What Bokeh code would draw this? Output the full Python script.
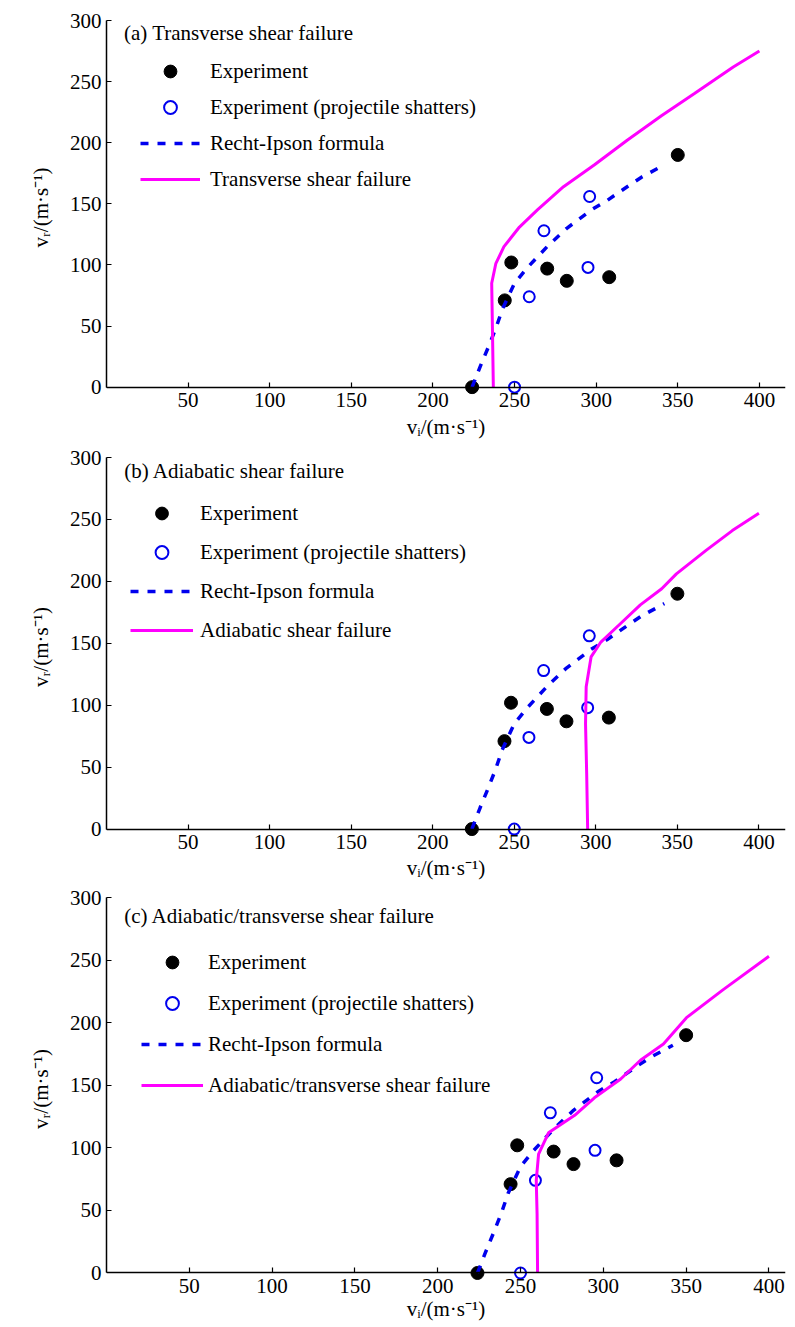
from bokeh.plotting import figure
from bokeh.layouts import column
from bokeh.models import Range1d, Legend, LegendItem, Label, FixedTicker, LinearAxis
from bokeh.embed import file_html
from bokeh.resources import INLINE

# ---- data ----
exp_vi = [224, 244, 248, 270, 282, 308, 350]
exp_vr = [0, 71, 102, 97, 87, 90, 190]
shat_vi = [250, 259, 268, 295, 296]
shat_vr = [0, 74, 128, 98, 156]
ri_vi = [224, 229, 234, 238.5, 242.6, 250, 258, 270, 282, 294, 297, 307, 319, 328, 342]
ri_vr = [0, 17, 33, 48, 64, 85, 98, 115, 130, 142, 145, 153, 164, 172, 182]
ts_vi = [237, 236.5, 236, 238.5, 243.5, 253, 264, 280, 299, 319, 340, 360, 384, 400]
ts_vr = [0, 44, 85, 101, 115, 131, 145, 164, 182, 202, 222, 240, 262, 275]
as_vi = [295, 294.4, 293.7, 294.1, 297.1, 303.1, 315.2, 327.3, 340.4, 349.4, 367.6, 383.7, 400]
as_vr = [0, 45, 85, 115, 139, 151, 166, 181, 194, 206, 225, 241, 255]
at_vi = [260.3, 260, 259.5, 260.9, 266.9, 282.7, 294.6, 310.5, 322.4, 336.3, 350.2, 372, 400]
at_vr = [0, 47, 74, 95, 112, 126, 140, 155, 170, 183, 204, 226, 253]

x_ticks = [50, 100, 150, 200, 250, 300, 350, 400]
y_ticks = [0, 50, 100, 150, 200, 250, 300]

FONT = "Liberation Serif"
FS = "21px"
MAGENTA = "#ff00ff"
BLUE = "#0000ee"
Y_LO = -6


def style_axis(ax):
    ax.axis_line_width = 1.5
    ax.axis_line_color = "black"
    ax.major_tick_in = 5
    ax.major_tick_out = 0
    ax.minor_tick_in = 0
    ax.minor_tick_out = 0
    ax.major_tick_line_width = 1.2
    ax.major_tick_line_color = "black"
    ax.major_label_text_font = FONT
    ax.major_label_text_font_size = FS
    ax.major_label_text_color = "black"
    ax.axis_label_text_font = FONT
    ax.axis_label_text_font_size = FS
    ax.axis_label_text_font_style = "normal"
    ax.axis_label_text_color = "black"
    ax.major_label_standoff = 5


def make_panel(title, curve_label, cx, cy, height, xmax, top, bottom, right,
               leg_x, leg_y, glyph_w, standoff, spacing, title_xy, xlab_standoff):
    p = figure(width=795, height=height, output_backend="svg", toolbar_location=None,
               x_range=Range1d(0, xmax), y_range=Range1d(Y_LO, 300),
               min_border_left=106, min_border_right=right,
               min_border_top=top, min_border_bottom=bottom)
    p.outline_line_color = None
    p.grid.visible = False
    p.background_fill_color = "white"

    # outer x axis: only labels
    xa = p.xaxis[0]
    style_axis(xa)
    xa.ticker = FixedTicker(ticks=x_ticks)
    xa.axis_line_color = None
    xa.major_tick_line_color = None
    xa.major_label_standoff = -2
    xa.axis_label = "vᵢ/(m·s⁻¹)"
    xa.axis_label_standoff = xlab_standoff

    # axis line and ticks at vr = 0
    xa0 = LinearAxis(fixed_location=0, ticker=FixedTicker(ticks=x_ticks))
    style_axis(xa0)
    xa0.major_label_text_color = None
    p.add_layout(xa0, "below")

    ya = p.yaxis[0]
    style_axis(ya)
    ya.ticker = FixedTicker(ticks=y_ticks)
    ya.bounds = (0, 300)
    ya.axis_label = "vᵣ/(m·s⁻¹)"
    ya.axis_label_standoff = 14

    r_exp = p.scatter(exp_vi, exp_vr, size=13, marker="circle", fill_color="black",
                      line_color="black")
    r_sh = p.scatter(shat_vi, shat_vr, size=11, marker="circle", fill_color=None,
                     line_color=BLUE, line_width=2)
    r_ri = p.line(ri_vi, ri_vr, line_color=BLUE, line_width=3.5, line_dash="8 9")
    r_cv = p.line(cx, cy, line_color=MAGENTA, line_width=3)

    legend = Legend(items=[
        LegendItem(label="Experiment", renderers=[r_exp]),
        LegendItem(label="Experiment (projectile shatters)", renderers=[r_sh]),
        LegendItem(label="Recht-Ipson formula", renderers=[r_ri]),
        LegendItem(label=curve_label, renderers=[r_cv]),
    ], location=(leg_x, leg_y), orientation="vertical")
    legend.border_line_color = None
    legend.background_fill_alpha = 0
    legend.padding = 0
    legend.margin = 0
    legend.glyph_width = glyph_w
    legend.glyph_height = 32
    legend.label_height = 32
    legend.label_standoff = standoff
    legend.spacing = spacing
    legend.label_text_font = FONT
    legend.label_text_font_size = FS
    legend.label_text_color = "black"
    p.add_layout(legend, "center")

    p.add_layout(Label(x=title_xy[0], y=title_xy[1], text=title, text_font=FONT,
                       text_font_size=FS, text_baseline="middle", text_color="black"))
    return p


pa = make_panel("(a) Transverse shear failure", "Transverse shear failure",
                ts_vi, ts_vr, 446, 416, 20, 52, 10, 34, 199, 60, 10, 4, (10.7, 289.5), 5)
pb = make_panel("(b) Adiabatic shear failure", "Adiabatic shear failure",
                as_vi, as_vr, 440, 416.3, 11, 50, 0, 24, 190, 63, 7, 7, (10.9, 288.7), 4)
pc = make_panel("(c) Adiabatic/transverse shear failure", "Adiabatic/transverse shear failure",
                at_vi, at_vr, 441, 410, 11, 47, 0, 35, 179, 62, 5, 9, (10.7, 285.6), 1)

layout = column(pa, pb, pc, spacing=0)
open("out.html", "w").write(file_html(layout, INLINE))
